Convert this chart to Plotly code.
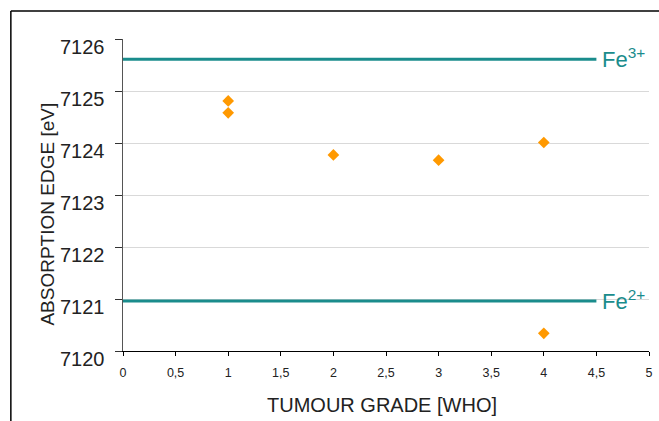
import plotly.graph_objects as go

# Data
grade = [1, 1, 2, 3, 4, 4]
edge = [7124.81, 7124.58, 7123.77, 7123.67, 7124.01, 7120.34]

ref_x = [0, 4.5]
fe3_value = 7125.61
fe2_value = 7120.96
fe3_label = "Fe<sup>3+</sup>"
fe2_label = "Fe<sup>2+</sup>"

x_ticks = [0, 0.5, 1, 1.5, 2, 2.5, 3, 3.5, 4, 4.5, 5]
x_tick_text = ["0", "0,5", "1", "1,5", "2", "2,5", "3", "3,5", "4", "4,5", "5"]
y_ticks = [7120, 7121, 7122, 7123, 7124, 7125, 7126]
y_tick_text = [str(v) for v in y_ticks]

TEAL = "#1a8c8c"
ORANGE = "#ff9900"
FONT = "Liberation Sans, Arial, sans-serif"
TXT = "#222222"

W, H = 659, 421
ML, MR, MT, MB = 123, 6, 39, 70
PW, PH = W - ML - MR, H - MT - MB

def px2x(px):
    return (px - ML) / PW

def py2y(py):
    return (H - MB - py) / PH

fig = go.Figure()
fig.add_trace(go.Scatter(x=ref_x, y=[fe3_value] * 2, mode="lines",
                         line=dict(color=TEAL, width=3), hoverinfo="skip"))
fig.add_trace(go.Scatter(x=ref_x, y=[fe2_value] * 2, mode="lines",
                         line=dict(color=TEAL, width=3), hoverinfo="skip"))
fig.add_trace(go.Scatter(x=grade, y=edge, mode="markers",
                         marker=dict(symbol="diamond", size=9, color=ORANGE,
                                     line=dict(width=0))))

for val, lab in [(fe3_value, fe3_label), (fe2_value, fe2_label)]:
    fig.add_annotation(x=ref_x[-1], y=val, xref="x", yref="y", text=lab,
                       showarrow=False, xanchor="left", yanchor="middle",
                       xshift=4, yshift=1,
                       font=dict(family=FONT, size=22, color=TEAL))

# y tick labels (drawn slightly below their ticks, as in the reference)
for v, t in zip(y_ticks, y_tick_text):
    fig.add_annotation(x=px2x(107), y=v, xref="paper", yref="y", text=t,
                       showarrow=False, xanchor="right", yanchor="middle",
                       yshift=-8,
                       font=dict(family=FONT, size=20, color=TXT))

fig.add_annotation(x=px2x(46), y=py2y(214), xref="paper", yref="paper",
                   text="ABSORPTION EDGE [eV]", textangle=-90, showarrow=False,
                   xanchor="center", yanchor="middle",
                   font=dict(family=FONT, size=19, color=TXT))
fig.add_annotation(x=px2x(384), y=py2y(405), xref="paper", yref="paper",
                   text="TUMOUR GRADE [WHO]", showarrow=False,
                   xanchor="center", yanchor="middle",
                   font=dict(family=FONT, size=20, color=TXT))

# outer frame (partial)
fig.add_shape(type="line", xref="paper", yref="paper",
              x0=px2x(10), x1=1.02, y0=py2y(11), y1=py2y(11),
              line=dict(color="black", width=1.5))
fig.add_shape(type="line", xref="paper", yref="paper",
              x0=px2x(10), x1=px2x(10), y0=py2y(11), y1=py2y(421),
              line=dict(color="black", width=1.5))

fig.update_layout(
    width=W, height=H,
    margin=dict(l=ML, r=MR, t=MT, b=MB),
    paper_bgcolor="white", plot_bgcolor="white",
    showlegend=False,
    font=dict(family=FONT, color=TXT),
    xaxis=dict(range=[0, 5], tickvals=x_ticks, ticktext=x_tick_text,
               showgrid=False, zeroline=False, showline=True,
               linecolor="black", linewidth=1.2,
               ticks="outside", ticklen=4, tickcolor="black",
               ticklabelstandoff=6,
               tickfont=dict(family=FONT, size=12.5, color=TXT)),
    yaxis=dict(range=[7120, 7126], tickvals=y_ticks, showticklabels=False,
               showgrid=True, gridcolor="#d9d9d9", gridwidth=1,
               zeroline=False, showline=True,
               linecolor="#555555", linewidth=1.2,
               ticks="outside", ticklen=7, tickcolor="#333333"),
)

fig.write_html("out.html")
